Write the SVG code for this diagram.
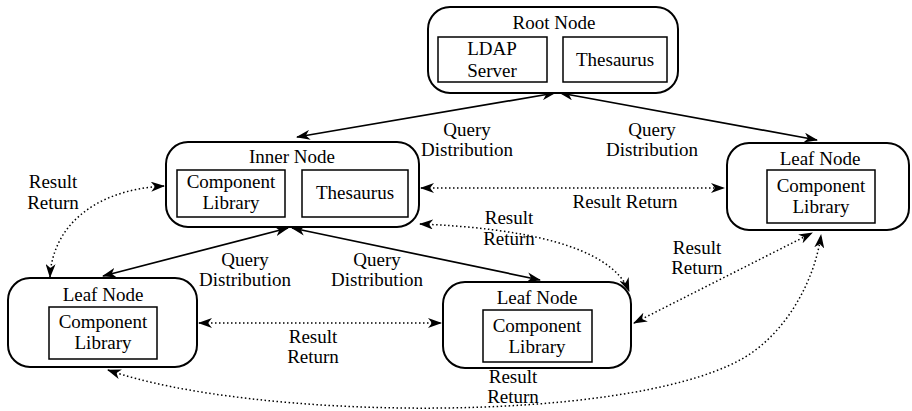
<svg xmlns="http://www.w3.org/2000/svg" width="912" height="411" viewBox="0 0 912 411">
  <defs>
    <style>
      .node { fill: #fff; stroke: #000; stroke-width: 2; }
      .box { fill: #fff; stroke: #000; stroke-width: 1.5; }
      text { font-family: "Liberation Serif", "Times New Roman", Times, serif; font-size: 19px; fill: #000; text-anchor: middle; }
      .solid { fill: none; stroke: #000; stroke-width: 1.7; }
      .dotted { fill: none; stroke: #000; stroke-width: 1.5; stroke-dasharray: 1.5 2.5; }
    </style>
    <marker id="ah" viewBox="0 0 14 10" refX="13" refY="5" markerWidth="14" markerHeight="10" markerUnits="userSpaceOnUse" orient="auto-start-reverse">
      <path d="M0,0 L14,5 L0,10 L4,5 Z" fill="#000"/>
    </marker>
  </defs>

  <!-- connectors -->
  <g id="connectors">
    <!-- query distribution (solid, two-headed) -->
    <line class="solid" x1="555" y1="93" x2="297" y2="137" marker-start="url(#ah)" marker-end="url(#ah)"/>
    <line class="solid" x1="560" y1="93" x2="817" y2="140" marker-start="url(#ah)" marker-end="url(#ah)"/>
    <line class="solid" x1="288" y1="228" x2="103" y2="276" marker-start="url(#ah)" marker-end="url(#ah)"/>
    <line class="solid" x1="292" y1="228" x2="540" y2="280" marker-start="url(#ah)" marker-end="url(#ah)"/>
    <!-- result return (dotted, two-headed) -->
    <line class="dotted" x1="421" y1="188" x2="724" y2="188" marker-start="url(#ah)" marker-end="url(#ah)"/>
    <path class="dotted" d="M164,186 C90,190 52,230 50,277" marker-start="url(#ah)" marker-end="url(#ah)"/>
    <path class="dotted" d="M420,224 C520,228 610,245 629,291" marker-start="url(#ah)" marker-end="url(#ah)"/>
    <line class="dotted" x1="199" y1="323" x2="441" y2="323" marker-start="url(#ah)" marker-end="url(#ah)"/>
    <line class="dotted" x1="634" y1="323" x2="812" y2="233" marker-start="url(#ah)" marker-end="url(#ah)"/>
    <path class="dotted" d="M108,370 C250,420 620,425 740,360 C786,335 815,280 821,235" marker-start="url(#ah)" marker-end="url(#ah)"/>
    <!-- connector labels -->
    <text x="467" y="136">Query</text>
    <text x="467" y="156">Distribution</text>
    <text x="652" y="136">Query</text>
    <text x="652" y="156">Distribution</text>
    <text x="53" y="188">Result</text>
    <text x="53" y="209">Return</text>
    <text x="625" y="208">Result Return</text>
    <text x="509" y="224">Result</text>
    <text x="509" y="245">Return</text>
    <text x="245" y="266">Query</text>
    <text x="245" y="286">Distribution</text>
    <text x="377" y="266">Query</text>
    <text x="377" y="286">Distribution</text>
    <text x="697" y="254">Result</text>
    <text x="697" y="274">Return</text>
    <text x="313" y="343">Result</text>
    <text x="313" y="363">Return</text>
    <text x="513" y="383">Result</text>
    <text x="513" y="403">Return</text>
  </g>

  <g id="root-node">
    <rect class="node" x="428" y="7" width="250" height="86" rx="22"/>
    <text x="554" y="29">Root Node</text>
    <rect class="box" x="438" y="37" width="109" height="45"/>
    <text x="492" y="55">LDAP</text>
    <text x="492" y="77">Server</text>
    <rect class="box" x="563" y="37" width="104" height="45"/>
    <text x="615" y="66">Thesaurus</text>
  </g>

  <g id="inner-node">
    <rect class="node" x="166" y="142" width="253" height="85" rx="22"/>
    <text x="292" y="163">Inner Node</text>
    <rect class="box" x="177" y="170" width="108" height="47"/>
    <text x="231" y="188">Component</text>
    <text x="231" y="209">Library</text>
    <rect class="box" x="302" y="170" width="106" height="47"/>
    <text x="355" y="199">Thesaurus</text>
  </g>

  <g id="leaf-right">
    <rect class="node" x="727" y="143" width="182" height="87" rx="22"/>
    <text x="820" y="165">Leaf Node</text>
    <rect class="box" x="767" y="170" width="108" height="53"/>
    <text x="821" y="192">Component</text>
    <text x="821" y="213">Library</text>
  </g>

  <g id="leaf-left">
    <rect class="node" x="8" y="278" width="189" height="89" rx="22"/>
    <text x="103" y="301">Leaf Node</text>
    <rect class="box" x="49" y="307" width="108" height="52"/>
    <text x="103" y="328">Component</text>
    <text x="103" y="349">Library</text>
  </g>

  <g id="leaf-middle">
    <rect class="node" x="443" y="282" width="188" height="86" rx="22"/>
    <text x="537" y="304">Leaf Node</text>
    <rect class="box" x="483" y="310" width="109" height="52"/>
    <text x="537" y="332">Component</text>
    <text x="537" y="353">Library</text>
  </g>
</svg>
